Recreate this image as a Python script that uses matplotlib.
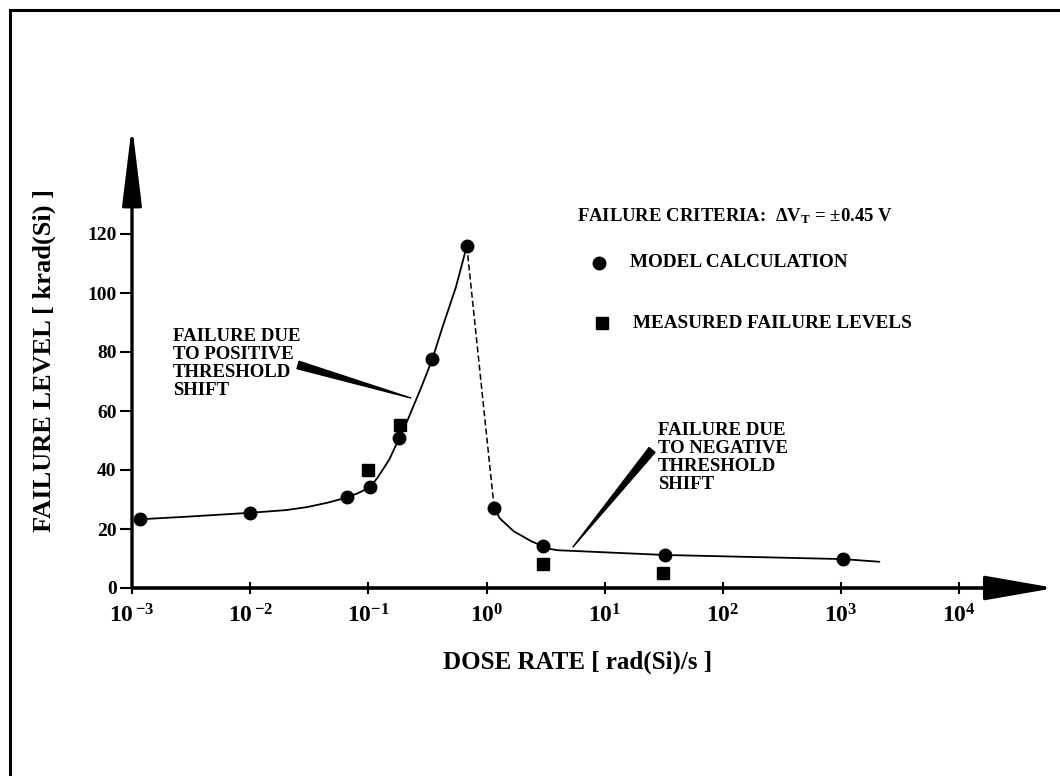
import matplotlib
matplotlib.use("Agg")
import matplotlib.pyplot as plt
from matplotlib.lines import Line2D
from matplotlib.ticker import FixedLocator, NullLocator

plt.rcParams['font.family'] = ['Liberation Serif', 'DejaVu Serif']
plt.rcParams['font.weight'] = 'bold'
plt.rcParams['mathtext.fontset'] = 'custom'
plt.rcParams['mathtext.rm'] = 'Liberation Serif:bold'
plt.rcParams['mathtext.bf'] = 'Liberation Serif:bold'
plt.rcParams['mathtext.it'] = 'Liberation Serif:bold'

# ---- data ----
model_x = [0.00117, 0.01, 0.066, 0.103, 0.182, 0.347, 0.68, 1.16, 2.98, 32, 1030]
model_y = [23.3, 25.5, 30.7, 34.1, 50.7, 77.5, 115.9, 27.0, 14.2, 11.2, 9.8]

measured_x = [0.10, 0.185, 2.98, 31]
measured_y = [40.0, 55.3, 8.0, 5.0]

# fitted curve as drawn in the figure (read points)
curve_left_x = [0.00117, 0.003, 0.01, 0.02, 0.03, 0.045, 0.066, 0.08, 0.103, 0.12, 0.15,
                0.182, 0.215, 0.28, 0.347, 0.42, 0.55, 0.68]
curve_left_y = [23.3, 24.2, 25.5, 26.4, 27.4, 28.9, 30.7, 32.0, 34.1, 37.5, 43.5,
                50.7, 57.0, 68.0, 77.5, 88.0, 102.0, 115.9]
curve_drop_x = [0.68, 1.16]
curve_drop_y = [115.9, 27.0]
curve_right_x = [1.16, 1.3, 1.7, 2.4, 2.98, 3.5, 4.0, 32, 1030, 2100]
curve_right_y = [27.0, 23.5, 19.2, 15.8, 14.2, 13.2, 12.8, 11.2, 9.8, 8.9]

xtick_vals = [1e-3, 1e-2, 1e-1, 1e0, 1e1, 1e2, 1e3, 1e4]
xtick_labels = [r'$\mathbf{10}^{\,\mathbf{-3}}$', r'$\mathbf{10}^{\,\mathbf{-2}}$',
                r'$\mathbf{10}^{\mathbf{-1}}$', r'$\mathbf{10}^{\mathbf{0}}$',
                r'$\mathbf{10}^{\mathbf{1}}$', r'$\mathbf{10}^{\mathbf{2}}$',
                r'$\mathbf{10}^{\mathbf{3}}$', r'$\mathbf{10}^{\mathbf{4}}$']
ytick_vals = [0, 20, 40, 60, 80, 100, 120]

W, H = 1060, 776
AX_L, AX_R, AX_T, AX_B = 132, 1055, 125, 588
fig = plt.figure(figsize=(W / 100, H / 100), dpi=100)
ax = fig.add_axes([AX_L / W, 1 - AX_B / H, (AX_R - AX_L) / W, (AX_B - AX_T) / H])
ax.set_xscale('log')
ax.set_xlim(1e-3, 10 ** (-3 + (AX_R - AX_L) / 118.2))
ax.set_ylim(0, (AX_B - AX_T) / 2.95)
ax.patch.set_alpha(0)
for s in ax.spines.values():
    s.set_visible(False)

# axis arrows
ax.annotate('', xy=(0, 1), xytext=(0, 0), xycoords='axes fraction',
            arrowprops=dict(arrowstyle='-|>,head_length=49,head_width=6', mutation_scale=1,
                            lw=2.4, color='black', shrinkA=0, shrinkB=0), annotation_clip=False)
ax.annotate('', xy=(1, 0), xytext=(0, 0), xycoords='axes fraction',
            arrowprops=dict(arrowstyle='-|>,head_length=43,head_width=7.5', mutation_scale=1,
                            lw=2.6, color='black', shrinkA=0, shrinkB=0), annotation_clip=False)

# curve
ax.plot(curve_left_x, curve_left_y, color='black', lw=1.3)
ax.plot(curve_drop_x, curve_drop_y, color='black', lw=1.1, ls=(0, (4, 2)))
ax.plot(curve_right_x, curve_right_y, color='black', lw=1.3)

ax.plot(model_x, model_y, 'o', color='black', ms=9, clip_on=False)
ax.plot(measured_x, measured_y, 's', color='black', ms=8, clip_on=False)

# ticks
ax.xaxis.set_major_locator(FixedLocator(xtick_vals))
ax.xaxis.set_minor_locator(NullLocator())
ax.set_xticklabels(xtick_labels, fontsize=17)
ax.set_yticks(ytick_vals)
ax.set_yticklabels([str(v) for v in ytick_vals], fontsize=14, fontweight='bold')
ax.tick_params(axis='x', direction='inout', length=9, width=1.5, pad=7)
ax.tick_params(axis='y', direction='out', length=9, width=1.5, pad=2)

ax.set_xlabel('DOSE RATE [ rad(Si)/s ]', fontsize=18, fontweight='bold')
ax.xaxis.set_label_coords((578 - AX_L) / (AX_R - AX_L), -(662 - AX_B) / (AX_B - AX_T))
ax.xaxis.label.set_va('center')
ax.set_ylabel('FAILURE LEVEL [ krad(Si) ]', fontsize=19, fontweight='bold')
ax.yaxis.set_label_coords((44 - AX_L) / (AX_R - AX_L), (AX_B - 361) / (AX_B - AX_T))
ax.yaxis.label.set_va('center')
ax.yaxis.label.set_ha('center')

# annotations
ax.text(0.00222, 88.1, 'FAILURE DUE\nTO POSITIVE\nTHRESHOLD\nSHIFT', fontsize=13.5,
        fontweight='bold', ha='left', va='top', linespacing=1.08)
ax.annotate('', xy=(0.229, 64.4), xytext=(0.0254, 75.6),
            arrowprops=dict(arrowstyle='wedge,tail_width=0.55', mutation_scale=10,
                            fc='black', ec='black', shrinkA=0, shrinkB=0))
ax.text(28.2, 56.3, 'FAILURE DUE\nTO NEGATIVE\nTHRESHOLD\nSHIFT', fontsize=13.5,
        fontweight='bold', ha='left', va='top', linespacing=1.08)
ax.annotate('', xy=(5.38, 13.9), xytext=(25.1, 46.8),
            arrowprops=dict(arrowstyle='wedge,tail_width=0.55', mutation_scale=10,
                            fc='black', ec='black', shrinkA=0, shrinkB=0))

# legend-like key
ax.text(5.82, 126, 'FAILURE CRITERIA:  ΔV$_{\\mathbf{T}}$ = ±0.45 V', fontsize=13.5,
        fontweight='bold', ha='left', va='center')
ax.plot([8.93], [110.2], 'o', color='black', ms=9)
ax.text(16.3, 110.2, 'MODEL CALCULATION', fontsize=13.8, fontweight='bold', ha='left', va='center')
ax.plot([9.42], [89.8], 's', color='black', ms=8)
ax.text(17.3, 89.8, 'MEASURED FAILURE LEVELS', fontsize=13.8, fontweight='bold', ha='left', va='center')

# page frame (left and top edges)
fig.add_artist(Line2D([10 / W, 10 / W], [0, 1 - 10 / H], color='black', lw=2.2))
fig.add_artist(Line2D([10 / W, 1], [1 - 10 / H, 1 - 10 / H], color='black', lw=2.2))

fig.savefig('out.png', dpi=100)
